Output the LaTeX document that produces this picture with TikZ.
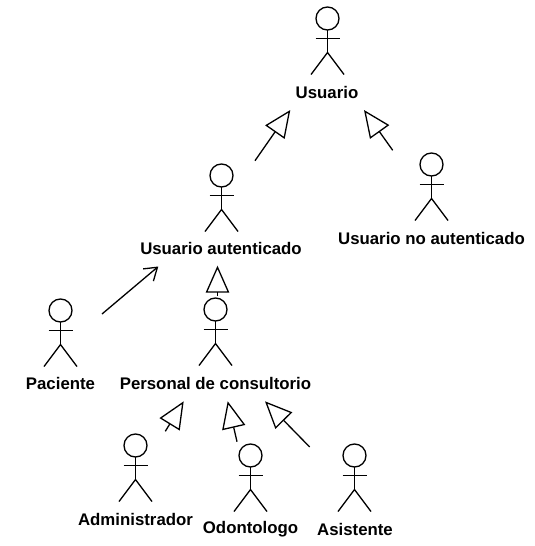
\documentclass[tikz,border=0pt]{standalone}
\usepackage{fontspec}
\setmainfont{Liberation Sans}
\usetikzlibrary{arrows.meta}
\newcommand{\umlactor}[3]{% name, cx, top
  \begin{scope}[shift={(#2,#3)},actorline]
    \draw (0,11.5) circle (11.5);
    \draw (0,23) -- (0,45.5) (-12,31.5) -- (12,31.5);
    \draw (-16.5,67.5) -- (0,45.5) -- (16.5,67.5);
  \end{scope}
}
\tikzset{
  actorline/.style={line width=1.3pt,black},
  actorlabel/.style={font=\bfseries\fontsize{16.8}{19}\selectfont,inner sep=0pt,anchor=center},
  generalization/.style={line width=1.3pt,-{Triangle[open,length=27pt,width=23.5pt,line width=1.3pt]}},
  association/.style={line width=1.3pt,-{Straight Barb[length=12pt,width=16pt,line width=1.3pt]}}
}
\begin{document}
\begin{tikzpicture}[x=1pt,y=-1pt]
\useasboundingbox (0,0) rectangle (535,546);
\umlactor{usuario}{327.5}{7}
\umlactor{autenticado}{221.5}{164}
\umlactor{noaut}{431.5}{153}
\umlactor{paciente}{60.5}{299}
\umlactor{personal}{215.5}{298}
\umlactor{admin}{135.5}{434}
\umlactor{odonto}{250.5}{444}
\umlactor{asist}{354.5}{444}
\node[actorlabel] (lusuario) at (327,92.5) {Usuario};
\node[actorlabel] (lautenticado) at (221,248.5) {Usuario autenticado};
\node[actorlabel] (lnoaut) at (431.5,238.5) {Usuario no autenticado};
\node[actorlabel] (lpaciente) at (60.5,383.5) {Paciente};
\node[actorlabel] (lpersonal) at (215.5,383.5) {Personal de consultorio};
\node[actorlabel] (ladmin) at (135.5,519.5) {Administrador};
\node[actorlabel] (lodonto) at (250.5,529.5) {Odontologo};
\node[actorlabel] (lasist) at (355,529.5) {Asistente};
\coordinate (a1s) at (255,160.7);   \coordinate (a1t) at (290.3,110);
\coordinate (a2s) at (392.7,150.3); \coordinate (a2t) at (364,110);
\coordinate (a3s) at (217.5,296);   \coordinate (a3t) at (217.5,265.7);
\coordinate (a4s) at (102,314);     \coordinate (a4t) at (158.3,266.5);
\coordinate (a5s) at (165.3,431.3); \coordinate (a5t) at (183.7,401.3);
\coordinate (a6s) at (237,441.7);   \coordinate (a6t) at (227.7,401.3);
\coordinate (a7s) at (309.7,447);   \coordinate (a7t) at (265,401.3);
\draw[generalization] (a1s) -- (a1t);
\draw[generalization] (a2s) -- (a2t);
\draw[generalization] (a3s) -- (a3t);
\draw[association] (a4s) -- (a4t);
\draw[generalization] (a5s) -- (a5t);
\draw[generalization] (a6s) -- (a6t);
\draw[generalization] (a7s) -- (a7t);
\end{tikzpicture}
\end{document}
